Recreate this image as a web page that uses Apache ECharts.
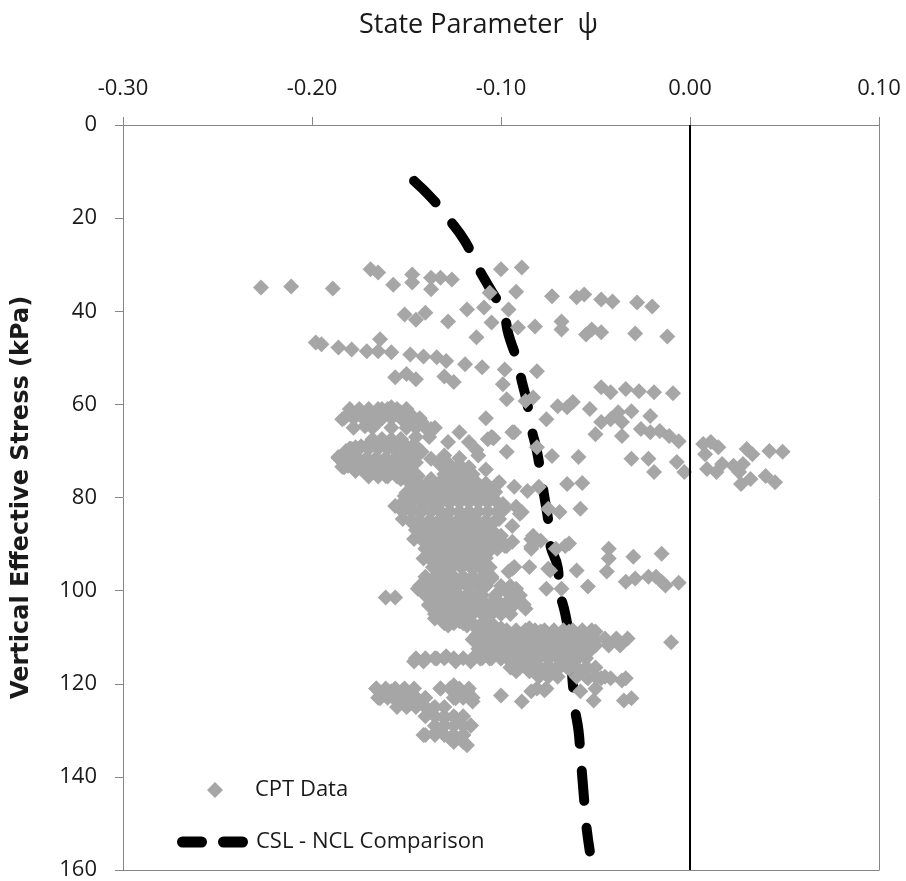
<!DOCTYPE html>
<html>
<head>
<meta charset="utf-8">
<script src="https://cdn.jsdelivr.net/npm/echarts@6/dist/echarts.min.js"></script>
<style>
html,body{margin:0;padding:0;background:#fff;}
#chart{width:906px;height:881px;}
</style>
</head>
<body>
<div id="chart"></div>
<script>
// ---- Data: [state parameter psi, vertical effective stress kPa] ----
const xTicks = [-0.30, -0.20, -0.10, 0.00, 0.10];
const yTicks = [0, 20, 40, 60, 80, 100, 120, 140, 160];

const cptBandA = [
[-0.227,34.9],[-0.211,34.7],[-0.189,35.1],[-0.169,31.0],[-0.165,31.7],[-0.157,34.3],[-0.147,32.1],[-0.147,33.8],
[-0.137,32.8],[-0.137,35.3],[-0.132,32.8],[-0.126,33.2],[-0.100,31.0],[-0.089,30.6],[-0.106,36.0],[-0.092,35.8],
[-0.073,36.8],[-0.060,37.0],[-0.056,36.4],[-0.047,37.5],[-0.041,37.9],[-0.028,38.1],[-0.020,39.0]
];
const cptBandB = [
[-0.151,40.7],[-0.145,41.8],[-0.140,40.3],[-0.128,42.2],[-0.118,39.6],[-0.109,39.2],[-0.096,39.6],[-0.105,42.4],
[-0.091,43.5],[-0.082,43.3],[-0.113,45.6],[-0.068,42.2],[-0.068,43.9],[-0.055,45.0],[-0.052,43.9],[-0.047,44.5],
[-0.029,44.8],[-0.012,45.4]
];
const cptBandC = [
[-0.198,46.7],[-0.195,47.1],[-0.186,47.8],[-0.179,48.2],[-0.171,48.6],[-0.164,46.0],[-0.165,48.6],[-0.158,48.8],
[-0.148,49.3],[-0.141,49.7],[-0.134,49.9],[-0.129,50.7],[-0.119,51.4],[-0.110,52.0],[-0.156,54.2],[-0.150,53.5],
[-0.145,54.6],[-0.130,54.0],[-0.125,55.2],[-0.098,52.5],[-0.081,52.9],[-0.099,55.7],[-0.097,58.9],[-0.083,58.5],
[-0.087,59.3],[-0.047,56.3],[-0.042,57.4],[-0.034,56.7],[-0.027,57.2],[-0.019,57.4],[-0.009,57.6]
];
const cptBandD = [
[-0.070,60.4],[-0.065,60.6],[-0.062,59.5],[-0.053,61.0],[-0.076,63.2],[-0.047,63.8],[-0.042,63.2],[-0.038,61.7],
[-0.031,61.5],[-0.036,63.8],[-0.021,62.5],[-0.026,65.3],[-0.021,66.0],[-0.016,65.7],[-0.011,66.8],[-0.006,67.9],
[-0.050,66.4],[-0.036,66.8],[-0.108,63.0]
];
const cptRightOfZero = [
[0.007,68.5],[0.011,68.1],[0.015,69.2],[0.008,70.7],[0.030,69.6],[0.033,70.7],[0.042,70.0],[0.049,70.2],
[0.009,73.9],[0.014,74.5],[0.017,72.8],[0.023,73.2],[0.028,72.8],[0.026,74.5],[0.027,77.1],[0.032,76.0],
[0.040,75.4],[0.045,76.7]
];
const cptBandE = [
[-0.073,71.1],[-0.059,71.3],[-0.031,71.7],[-0.022,71.7],[-0.019,74.5],[-0.007,72.4],[-0.003,74.5],[-0.065,77.1],
[-0.057,76.9],[-0.081,69.2]
];
const cptClusterUpper = [
[-0.184,63.2],[-0.179,62.1],[-0.174,61.7],[-0.169,62.7],[-0.165,63.8],[-0.172,64.7],[-0.163,61.0],[-0.158,60.6],
[-0.153,61.7],[-0.147,62.5],[-0.142,63.8],[-0.137,65.3],[-0.184,71.7],[-0.179,69.6],[-0.174,69.0],[-0.168,68.1],
[-0.163,67.5],[-0.158,69.0],[-0.181,73.2],[-0.174,73.9],[-0.166,74.5],[-0.161,75.4],[-0.159,72.4],[-0.153,67.5],
[-0.147,69.0],[-0.142,70.2],[-0.137,71.7],[-0.149,73.9],[-0.144,75.4],[-0.153,76.0],[-0.137,76.0],[-0.128,68.1],
[-0.122,66.0],[-0.117,68.1],[-0.105,67.0],[-0.094,66.0],[-0.097,70.2],[-0.101,76.7],[-0.186,71.3],[-0.182,70.0],
[-0.177,69.2],[-0.171,69.0],[-0.166,69.2],[-0.160,68.5],[-0.184,73.4],[-0.177,74.3],[-0.169,74.9],[-0.162,74.3],
[-0.107,67.5],[-0.104,67.3],[-0.093,66.0],[-0.102,77.1],[-0.093,77.7],[-0.086,78.6],[-0.080,77.7],
[-0.132,72.0],[-0.127,74.0],[-0.122,71.5],[-0.117,73.5],[-0.112,71.0],[-0.108,74.0],[-0.130,76.5],[-0.120,76.0],
[-0.145,72.5],[-0.150,70.5],[-0.113,69.8]
];
const cptClusterMid = [
[-0.151,79.7],[-0.145,78.8],[-0.140,79.7],[-0.135,78.8],[-0.129,78.2],[-0.124,77.5],[-0.119,76.7],[-0.113,76.7],
[-0.108,77.5],[-0.103,78.8],[-0.149,81.8],[-0.142,82.4],[-0.135,81.8],[-0.128,80.9],[-0.121,80.3],[-0.116,80.3],
[-0.108,80.3],[-0.156,81.8],[-0.153,81.8],[-0.100,83.1],[-0.089,83.1],[-0.144,85.2],[-0.137,85.2],[-0.129,84.6],
[-0.122,84.6],[-0.116,83.9],[-0.108,85.2],[-0.101,84.6],[-0.098,82.4],[-0.152,84.6],[-0.138,89.5],[-0.133,88.9],
[-0.126,88.2],[-0.119,87.4],[-0.112,88.9],[-0.105,88.9],[-0.098,90.4],[-0.146,88.9],[-0.137,92.5],[-0.129,92.5],
[-0.124,91.6],[-0.119,93.1],[-0.113,94.6],[-0.108,95.9],[-0.141,93.1],[-0.131,95.9],[-0.126,96.8],[-0.121,97.4],
[-0.116,98.1],[-0.110,98.9],[-0.105,97.4],[-0.144,99.6],[-0.137,98.9],[-0.129,100.2],[-0.122,101.1],[-0.116,101.1],
[-0.161,101.5],[-0.156,101.5],[-0.099,81.4],[-0.092,82.0],[-0.090,83.5],[-0.108,87.4],[-0.100,88.2],[-0.097,90.4],
[-0.102,91.0],[-0.083,88.2],[-0.084,90.6],[-0.093,94.9],[-0.085,94.9],[-0.094,86.1],[-0.094,89.5],[-0.096,95.9]
];
const cptRightMid = [
[-0.075,82.4],[-0.069,83.1],[-0.058,82.4],[-0.084,88.9],[-0.079,89.3],[-0.084,91.0],[-0.066,90.4],[-0.064,89.9],
[-0.071,91.0],[-0.043,91.0],[-0.043,93.1],[-0.044,95.9],[-0.030,92.7],[-0.015,92.1],[-0.094,95.3],[-0.075,95.3],
[-0.060,95.7],[-0.074,95.7],[-0.034,98.1],[-0.029,97.4],[-0.022,97.0],[-0.018,97.0],[-0.015,98.1],[-0.006,98.3],
[-0.013,98.9],[-0.076,99.6],[-0.068,99.6],[-0.054,99.1]
];
const cptBandF = [
[-0.140,100.2],[-0.138,103.2],[-0.131,103.9],[-0.124,103.9],[-0.135,106.0],[-0.128,107.5],[-0.122,106.6],[-0.117,105.4],
[-0.110,103.9],[-0.103,101.7],[-0.096,100.2],[-0.091,101.7],[-0.087,103.9],[-0.094,103.2],[-0.107,106.6],[-0.099,103.9],
[-0.092,99.6],[-0.097,100.2],[-0.130,106.0],[-0.118,107.5],[-0.125,103.2],[-0.120,101.7],[-0.113,103.2],
[-0.113,109.6],[-0.107,108.8],[-0.100,108.1],[-0.092,108.8],[-0.085,108.1],[-0.079,108.8],[-0.071,109.6],[-0.064,108.8],
[-0.057,110.3],[-0.110,111.8],[-0.103,111.8],[-0.096,110.9],[-0.089,111.8],[-0.082,112.4],[-0.075,111.8],[-0.068,111.8],
[-0.061,111.8],[-0.050,108.8],[-0.045,110.3],[-0.039,110.3],[-0.033,110.3],[-0.037,111.8],[-0.043,111.8],[-0.050,111.8],
[-0.010,111.1],[-0.092,112.4],[-0.084,112.4]
];
const cptBandG = [
[-0.146,115.2],[-0.141,115.2],[-0.134,114.6],[-0.129,114.1],[-0.124,115.2],[-0.116,115.2],[-0.111,114.6],[-0.106,114.6],
[-0.100,114.6],[-0.095,115.2],[-0.088,116.1],[-0.081,116.1],[-0.075,116.1],[-0.068,114.6],[-0.061,115.2],[-0.092,117.3],
[-0.085,117.3],[-0.079,117.3],[-0.071,117.3],[-0.064,116.7],[-0.057,117.3],[-0.054,118.8],[-0.050,121.0],[-0.047,118.8],
[-0.042,118.8],[-0.034,118.8],[-0.054,116.7],[-0.036,119.3],[-0.058,121.6],[-0.077,121.4],[-0.051,123.6],[-0.035,123.6],
[-0.031,123.1],[-0.100,122.5],[-0.089,123.8],[-0.084,121.6],[-0.076,121.0],[-0.081,121.0]
];
const cptBandH = [
[-0.164,123.1],[-0.158,121.6],[-0.152,121.4],[-0.146,122.5],[-0.141,124.6],[-0.136,125.3],[-0.132,121.0],[-0.125,120.3],
[-0.118,121.6],[-0.115,123.8],[-0.124,123.1],[-0.130,127.4],[-0.124,127.4],[-0.116,128.9],[-0.120,131.0],[-0.127,131.7],
[-0.141,131.0],[-0.134,130.2],[-0.118,133.2],[-0.161,122.5],[-0.155,123.8],[-0.149,124.6],[-0.166,121.0]
];
// overlapping readings inside the solid grey clusters
const cptDenseUpper = [
[-0.180,61.0],[-0.175,61.0],[-0.170,61.0],[-0.165,61.0],[-0.160,61.0],[-0.155,61.0],[-0.150,61.0],
[-0.183,63.0],[-0.178,63.0],[-0.173,63.0],[-0.168,63.0],[-0.163,63.0],[-0.158,63.0],[-0.153,63.0],[-0.148,63.0],[-0.143,63.0],
[-0.178,65.0],[-0.168,65.0],[-0.158,65.0],[-0.150,65.0],[-0.145,65.0],[-0.140,65.0],[-0.135,65.0],
[-0.145,67.0],[-0.138,67.0]
];
const cptDenseLobe = [
[-0.168,67.5],[-0.163,67.5],[-0.158,67.5],[-0.153,67.5],
[-0.180,69.5],[-0.175,69.5],[-0.170,69.5],[-0.165,69.5],[-0.160,69.5],[-0.155,69.5],[-0.150,69.5],
[-0.186,71.5],[-0.181,71.5],[-0.176,71.5],[-0.171,71.5],[-0.166,71.5],[-0.161,71.5],[-0.156,71.5],[-0.151,71.5],[-0.146,71.5],
[-0.183,73.5],[-0.178,73.5],[-0.173,73.5],[-0.168,73.5],[-0.163,73.5],[-0.158,73.5],[-0.153,73.5],[-0.148,73.5],
[-0.170,75.5],[-0.165,75.5],[-0.160,75.5],[-0.155,75.5],[-0.150,75.5]
];
const cptDenseCentral = [
[-0.150,69.0],[-0.145,69.0],
[-0.150,71.0],[-0.145,71.0],[-0.130,71.0],
[-0.152,73.0],[-0.147,73.0],[-0.132,73.0],[-0.127,73.0],[-0.122,73.0],
[-0.150,75.0],[-0.145,75.0],[-0.130,75.0],[-0.125,75.0],[-0.120,75.0],[-0.115,75.0],
[-0.148,77.0],[-0.143,77.0],[-0.138,77.0],[-0.133,77.0],[-0.128,77.0],[-0.123,77.0],[-0.118,77.0],[-0.113,77.0],[-0.108,77.0],
[-0.150,79.0],[-0.145,79.0],[-0.140,79.0],[-0.135,79.0],[-0.130,79.0],[-0.125,79.0],[-0.120,79.0],[-0.115,79.0],[-0.110,79.0],[-0.105,79.0],
[-0.152,81.0],[-0.147,81.0],[-0.142,81.0],[-0.137,81.0],[-0.132,81.0],[-0.127,81.0],[-0.122,81.0],[-0.117,81.0],[-0.112,81.0],[-0.107,81.0],[-0.102,81.0]
];
const cptDenseMid = [
[-0.152,83.0],[-0.147,83.0],[-0.142,83.0],[-0.137,83.0],[-0.132,83.0],[-0.127,83.0],[-0.122,83.0],[-0.117,83.0],[-0.112,83.0],[-0.107,83.0],[-0.102,83.0],
[-0.148,85.0],[-0.143,85.0],[-0.138,85.0],[-0.133,85.0],[-0.128,85.0],[-0.123,85.0],[-0.118,85.0],[-0.113,85.0],[-0.108,85.0],[-0.103,85.0],
[-0.145,87.0],[-0.140,87.0],[-0.135,87.0],[-0.130,87.0],[-0.125,87.0],[-0.120,87.0],[-0.115,87.0],[-0.110,87.0],[-0.105,87.0],
[-0.142,89.0],[-0.137,89.0],[-0.132,89.0],[-0.127,89.0],[-0.122,89.0],[-0.117,89.0],[-0.112,89.0],[-0.107,89.0],[-0.102,89.0],
[-0.140,91.0],[-0.135,91.0],[-0.130,91.0],[-0.125,91.0],[-0.120,91.0],[-0.115,91.0],[-0.110,91.0],[-0.105,91.0],
[-0.138,93.0],[-0.133,93.0],[-0.128,93.0],[-0.123,93.0],[-0.118,93.0],[-0.113,93.0],[-0.108,93.0],
[-0.136,95.0],[-0.131,95.0],[-0.126,95.0],[-0.121,95.0],[-0.116,95.0],[-0.111,95.0],[-0.106,95.0],
[-0.140,97.0],[-0.135,97.0],[-0.130,97.0],[-0.125,97.0],[-0.120,97.0],[-0.115,97.0],[-0.110,97.0],[-0.105,97.0],
[-0.143,99.0],[-0.138,99.0],[-0.133,99.0],[-0.128,99.0],[-0.123,99.0],[-0.118,99.0],[-0.113,99.0],[-0.108,99.0],[-0.100,99.0],[-0.095,99.0],
[-0.140,101.0],[-0.135,101.0],[-0.130,101.0],[-0.125,101.0],[-0.118,101.0],[-0.110,101.0],[-0.103,101.0],[-0.095,101.0],[-0.090,101.0],
[-0.138,103.0],[-0.133,103.0],[-0.128,103.0],[-0.123,103.0],[-0.118,103.0],[-0.113,103.0],[-0.108,103.0],[-0.103,103.0],[-0.098,103.0],[-0.093,103.0],[-0.088,103.0],
[-0.135,105.0],[-0.130,105.0],[-0.125,105.0],[-0.120,105.0],[-0.115,105.0],[-0.110,105.0],[-0.105,105.0],[-0.100,105.0],[-0.095,105.0],
[-0.130,107.0],[-0.125,107.0],[-0.120,107.0],[-0.115,107.0],[-0.110,107.0],[-0.105,107.0]
];
const cptDenseBand = [
[-0.112,108.5],[-0.107,108.5],[-0.102,108.5],[-0.097,108.5],[-0.092,108.5],[-0.087,108.5],[-0.082,108.5],[-0.077,108.5],[-0.072,108.5],[-0.067,108.5],[-0.062,108.5],[-0.057,108.5],[-0.052,108.5],
[-0.115,110.5],[-0.110,110.5],[-0.105,110.5],[-0.100,110.5],[-0.095,110.5],[-0.090,110.5],[-0.085,110.5],[-0.080,110.5],[-0.075,110.5],[-0.070,110.5],[-0.065,110.5],[-0.060,110.5],[-0.055,110.5],[-0.050,110.5],
[-0.112,112.5],[-0.107,112.5],[-0.102,112.5],[-0.097,112.5],[-0.092,112.5],[-0.087,112.5],[-0.082,112.5],[-0.077,112.5],[-0.072,112.5],[-0.067,112.5],[-0.062,112.5],[-0.057,112.5],[-0.052,112.5],
[-0.145,114.5],[-0.140,114.5],[-0.135,114.5],[-0.130,114.5],[-0.125,114.5],[-0.120,114.5],[-0.115,114.5],[-0.110,114.5],[-0.105,114.5],[-0.100,114.5],[-0.095,114.5],[-0.090,114.5],[-0.085,114.5],[-0.080,114.5],[-0.075,114.5],[-0.070,114.5],[-0.065,114.5],[-0.060,114.5],[-0.055,114.5],
[-0.095,116.5],[-0.090,116.5],[-0.085,116.5],[-0.080,116.5],[-0.075,116.5],[-0.070,116.5],[-0.065,116.5],[-0.060,116.5],[-0.055,116.5],[-0.050,116.5],
[-0.080,118.5],[-0.075,118.5],[-0.070,118.5],[-0.060,118.5],[-0.055,118.5],[-0.050,118.5],[-0.045,118.5]
];
const cptDenseDeep = [
[-0.166,121.0],[-0.161,121.0],[-0.156,121.0],[-0.151,121.0],[-0.146,121.0],[-0.132,121.0],[-0.127,121.0],[-0.122,121.0],[-0.117,121.0],
[-0.165,123.0],[-0.160,123.0],[-0.155,123.0],[-0.150,123.0],[-0.145,123.0],[-0.140,123.0],[-0.125,123.0],[-0.120,123.0],[-0.115,123.0],
[-0.155,125.0],[-0.150,125.0],[-0.145,125.0],[-0.140,125.0],[-0.135,125.0],[-0.130,125.0],
[-0.140,127.0],[-0.135,127.0],[-0.130,127.0],[-0.125,127.0],[-0.120,127.0],
[-0.135,129.0],[-0.130,129.0],[-0.125,129.0],[-0.120,129.0],[-0.116,129.0],
[-0.140,131.0],[-0.135,131.0],[-0.130,131.0],[-0.125,131.0],[-0.120,131.0],
[-0.125,132.5],[-0.120,132.5]
];

// CSL - NCL comparison curve
const cslStress = [12,16,20,25,30,35,40,45,50,55,60,65,70,75,80,85,90,95,100,105,110,115,120,125,130,135,140,145,150,156];
const cslPsi = [-0.146,-0.136,-0.128,-0.119,-0.113,-0.106,-0.099,-0.096,-0.092,-0.089,-0.086,-0.084,-0.081,-0.079,-0.077,-0.075,-0.074,-0.070,-0.069,-0.066,-0.064,-0.063,-0.062,-0.061,-0.059,-0.058,-0.057,-0.056,-0.055,-0.053];

const cptData = [].concat(cptBandA, cptBandB, cptBandC, cptBandD, cptRightOfZero, cptBandE,
  cptClusterUpper, cptClusterMid, cptRightMid, cptBandF, cptBandG, cptBandH,
  cptDenseUpper, cptDenseLobe, cptDenseCentral, cptDenseMid, cptDenseBand, cptDenseDeep);
const cslData = cslStress.map((s, i) => [cslPsi[i], s]);

const FONT = 'Open Sans';
const TXT = '#1a1a1a';
const AXIS = '#868686';
const DASH_ICON = 'path://M5.5,0 H24.5 A5.5,5.5 0 0 1 24.5,11 H5.5 A5.5,5.5 0 0 1 5.5,0 Z M46.5,0 H65.5 A5.5,5.5 0 0 1 65.5,11 H46.5 A5.5,5.5 0 0 1 46.5,0 Z';

const chart = echarts.init(document.getElementById('chart'), null, {renderer: 'canvas'});
chart.setOption({
  animation: false,
  backgroundColor: '#ffffff',
  title: {
    text: 'State Parameter  \u03C8',
    left: 354, top: 7,
    textStyle: {fontFamily: FONT, fontSize: 27, fontWeight: 'normal', color: TXT}
  },
  grid: {left: 123, right: 27, top: 125, bottom: 9, containLabel: false},
  legend: [
    {
      data: ['CPT Data'], left: 202, top: 774, orient: 'vertical',
      itemWidth: 16, itemHeight: 16,
      textStyle: {fontFamily: FONT, fontSize: 22, color: TXT, padding: [0, 0, 0, 27]}
    },
    {
      data: [{name: 'CSL - NCL Comparison', icon: DASH_ICON}], left: 172, top: 826, orient: 'vertical',
      itemWidth: 71, itemHeight: 11,
      itemStyle: {color: '#000'},
      textStyle: {fontFamily: FONT, fontSize: 22, color: TXT, padding: [0, 0, 0, 3]}
    }
  ],
  xAxis: [
    {
      type: 'value', position: 'top', min: xTicks[0], max: xTicks[xTicks.length - 1], interval: 0.1,
      axisLine: {show: true, onZero: false, lineStyle: {color: AXIS, width: 1}},
      axisTick: {show: true, length: 8, lineStyle: {color: AXIS}},
      axisLabel: {margin: 25, fontFamily: FONT, fontSize: 22, color: TXT, formatter: v => v.toFixed(2)},
      splitLine: {show: false}
    },
    {
      type: 'value', position: 'bottom', min: xTicks[0], max: xTicks[xTicks.length - 1],
      axisLine: {show: true, onZero: false, lineStyle: {color: AXIS, width: 1}},
      axisTick: {show: false}, axisLabel: {show: false}, splitLine: {show: false}
    }
  ],
  yAxis: [
    {
      type: 'value', inverse: true, min: yTicks[0], max: yTicks[yTicks.length - 1], interval: 20,
      name: 'Vertical Effective Stress (kPa)', nameLocation: 'middle', nameGap: 89, nameRotate: 90,
      nameTextStyle: {fontFamily: 'DejaVu Sans', fontSize: 24, fontWeight: 'bold', color: TXT},
      axisLine: {show: true, onZero: false, lineStyle: {color: AXIS, width: 1}},
      axisTick: {show: true, length: 8, lineStyle: {color: AXIS}},
      axisLabel: {margin: 26, fontFamily: FONT, fontSize: 22, color: TXT},
      splitLine: {show: false}
    },
    {
      type: 'value', position: 'right', inverse: true, min: 0, max: 160,
      axisLine: {show: true, onZero: false, lineStyle: {color: AXIS, width: 1}},
      axisTick: {show: false}, axisLabel: {show: false}, splitLine: {show: false}
    }
  ],
  series: [
    {
      name: 'CSL - NCL Comparison', type: 'line', data: cslData, smooth: true,
      symbol: 'none', z: 2,
      lineStyle: {color: '#000', width: 10, type: [30, 27], cap: 'round'},
      itemStyle: {color: '#000'}
    },
    {
      name: 'CPT Data', type: 'scatter', data: cptData, symbol: 'diamond', symbolSize: 16, z: 3,
      itemStyle: {color: '#a6a6a6', opacity: 1},
      markLine: {
        silent: true, symbol: 'none', label: {show: false},
        lineStyle: {color: '#000', width: 2, type: 'solid'},
        data: [{xAxis: 0}]
      }
    }
  ]
});
</script>
</body>
</html>
